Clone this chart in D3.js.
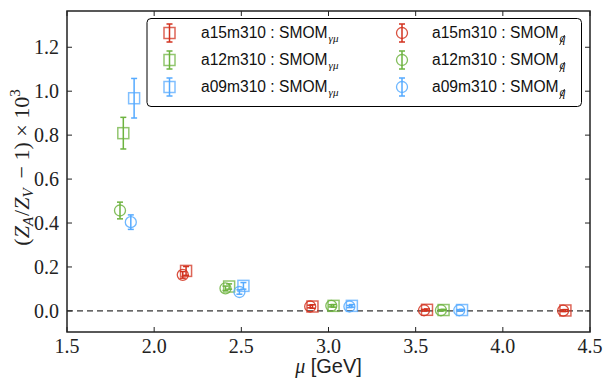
<!DOCTYPE html>
<html>
<head>
<meta charset="utf-8">
<script src="https://cdn.jsdelivr.net/npm/d3@7"></script>
<style>
  body { margin: 0; background: #fff; }
  svg { display: block; }
</style>
</head>
<body>
<div id="container"></div>
<script>
const width = 603;
const height = 382;

// series data: mu [GeV], (ZA/ZV - 1) x 10^3, error
const a15_gmu_mu  = [2.183, 2.908, 3.565, 4.359];
const a15_gmu_val = [0.182, 0.020, 0.005, 0.002];
const a15_gmu_err = [0.020, 0.008, 0.004, 0.004];

const a12_gmu_mu  = [1.823, 2.430, 3.029, 3.660];
const a12_gmu_val = [0.809, 0.111, 0.023, 0.004];
const a12_gmu_err = [0.072, 0.012, 0.006, 0.003];

const a09_gmu_mu  = [1.885, 2.512, 3.134, 3.766];
const a09_gmu_val = [0.968, 0.114, 0.023, 0.004];
const a09_gmu_err = [0.090, 0.015, 0.006, 0.003];

const a15_q_mu  = [2.164, 2.895, 3.548, 4.346];
const a15_q_val = [0.164, 0.020, 0.003, 0.001];
const a15_q_err = [0.015, 0.006, 0.004, 0.004];

const a12_q_mu  = [1.804, 2.409, 3.016, 3.645];
const a12_q_val = [0.457, 0.103, 0.023, 0.003];
const a12_q_err = [0.038, 0.010, 0.005, 0.003];

const a09_q_mu  = [1.866, 2.489, 3.120, 3.750];
const a09_q_val = [0.404, 0.086, 0.020, 0.003];
const a09_q_err = [0.033, 0.010, 0.005, 0.003];

const xTicks = [1.5, 2.0, 2.5, 3.0, 3.5, 4.0, 4.5];
const yTicks = [0.0, 0.2, 0.4, 0.6, 0.8, 1.0, 1.2];

const RED = '#d2321f', GREEN = '#6db33f', BLUE = '#55aaff';

function zip(mu, val, err) {
    return mu.map((m, i) => ({mu: m, v: val[i], e: err[i]}));
}

const series = [
    {name: 'a15m310', kind: 'gmu', color: RED,   data: zip(a15_gmu_mu, a15_gmu_val, a15_gmu_err)},
    {name: 'a12m310', kind: 'gmu', color: GREEN, data: zip(a12_gmu_mu, a12_gmu_val, a12_gmu_err)},
    {name: 'a09m310', kind: 'gmu', color: BLUE,  data: zip(a09_gmu_mu, a09_gmu_val, a09_gmu_err)},
    {name: 'a15m310', kind: 'q',   color: RED,   data: zip(a15_q_mu, a15_q_val, a15_q_err)},
    {name: 'a12m310', kind: 'q',   color: GREEN, data: zip(a12_q_mu, a12_q_val, a12_q_err)},
    {name: 'a09m310', kind: 'q',   color: BLUE,  data: zip(a09_q_mu, a09_q_val, a09_q_err)}
];

const plotL = 67, plotR = 590, plotT = 11, plotB = 332;

const svg = d3.select('#container')
    .append('svg')
    .attr('width', width)
    .attr('height', height);

const x = d3.scaleLinear().domain([1.5, 4.5]).range([plotL, plotR]);
const y = d3.scaleLinear().domain([-0.096, 1.365]).range([plotB, plotT]);

const SERIF = 'Liberation Serif';
const SANS = 'Liberation Sans';

// zero line
svg.append('line')
    .attr('x1', x(1.5)).attr('x2', x(4.5))
    .attr('y1', y(0)).attr('y2', y(0))
    .attr('stroke', '#000')
    .attr('stroke-width', 1)
    .attr('stroke-dasharray', '6,4');

// marker drawing
function drawMarker(g, kind, color, cx, cy) {
    if (kind === 'gmu') {
        g.append('rect')
            .attr('x', cx - 5.5).attr('y', cy - 5.5)
            .attr('width', 11).attr('height', 11)
            .attr('fill', 'none')
            .attr('stroke', color)
            .attr('stroke-opacity', 0.75)
            .attr('stroke-width', 1.5);
    } else {
        g.append('circle')
            .attr('cx', cx).attr('cy', cy).attr('r', 5.5)
            .attr('fill', 'none')
            .attr('stroke', color)
            .attr('stroke-opacity', 0.85)
            .attr('stroke-width', 1.3);
    }
}

function drawErr(g, color, cx, y1, y2) {
    g.append('line').attr('x1', cx).attr('x2', cx).attr('y1', y1).attr('y2', y2)
        .attr('stroke', color).attr('stroke-width', 1.5);
    [y1, y2].forEach(yy => {
        g.append('line').attr('x1', cx - 3).attr('x2', cx + 3).attr('y1', yy).attr('y2', yy)
            .attr('stroke', color).attr('stroke-width', 1.5);
    });
}

const pts = svg.append('g');
series.forEach(s => {
    const g = pts.append('g');
    s.data.forEach(d => {
        drawErr(g, s.color, x(d.mu), y(d.v + d.e), y(d.v - d.e));
        drawMarker(g, s.kind, s.color, x(d.mu), y(d.v));
    });
});

// axes with inward ticks
const axG = svg.append('g');
const tickLen = 5;
xTicks.forEach(t => {
    axG.append('line').attr('x1', x(t)).attr('x2', x(t)).attr('y1', plotB).attr('y2', plotB - tickLen)
        .attr('stroke', '#222').attr('stroke-width', 1);
    axG.append('line').attr('x1', x(t)).attr('x2', x(t)).attr('y1', plotT).attr('y2', plotT + tickLen)
        .attr('stroke', '#222').attr('stroke-width', 1);
    axG.append('text')
        .attr('x', x(t)).attr('y', plotB + 21)
        .attr('text-anchor', 'middle')
        .attr('font-family', SERIF).attr('font-size', 20)
        .attr('fill', '#222')
        .text(t.toFixed(1));
});
yTicks.forEach(t => {
    axG.append('line').attr('x1', plotL).attr('x2', plotL + tickLen).attr('y1', y(t)).attr('y2', y(t))
        .attr('stroke', '#222').attr('stroke-width', 1);
    axG.append('line').attr('x1', plotR).attr('x2', plotR - tickLen).attr('y1', y(t)).attr('y2', y(t))
        .attr('stroke', '#222').attr('stroke-width', 1);
    axG.append('text')
        .attr('x', plotL - 8).attr('y', y(t) + 7)
        .attr('text-anchor', 'end')
        .attr('font-family', SERIF).attr('font-size', 20)
        .attr('fill', '#222')
        .text(t.toFixed(1));
});
axG.append('rect')
    .attr('x', plotL).attr('y', plotT)
    .attr('width', plotR - plotL).attr('height', plotB - plotT)
    .attr('fill', 'none')
    .attr('stroke', '#222')
    .attr('stroke-width', 1.5);

// x label
const xl = svg.append('text')
    .attr('x', (plotL + plotR) / 2).attr('y', 373)
    .attr('text-anchor', 'middle')
    .attr('font-size', 20)
    .attr('fill', '#222');
xl.append('tspan').attr('font-family', SERIF).attr('font-style', 'italic').text('μ');
xl.append('tspan').attr('font-family', SANS).text(' [GeV]');

// y label
const yl = svg.append('text')
    .attr('transform', `translate(29,${(plotT + plotB) / 2 - 4}) rotate(-90)`)
    .attr('text-anchor', 'middle')
    .attr('font-family', SERIF)
    .attr('font-size', 22)
    .attr('fill', '#222');
yl.append('tspan').text('(');
yl.append('tspan').attr('font-style', 'italic').text('Z');
yl.append('tspan').attr('font-style', 'italic').attr('font-size', 15).attr('dy', 4).text('A');
yl.append('tspan').attr('dy', -4).attr('dx', 1).text('/');
yl.append('tspan').attr('font-style', 'italic').text('Z');
yl.append('tspan').attr('font-style', 'italic').attr('font-size', 15).attr('dy', 4).text('V');
yl.append('tspan').attr('dy', -4).text('\u2009 − 1) × 10');
yl.append('tspan').attr('font-size', 15).attr('dy', -9).text('3');

// legend
const legend = svg.append('g').attr('id', 'legend');
legend.append('rect')
    .attr('x', 147).attr('y', 18.5)
    .attr('width', 434.5).attr('height', 88)
    .attr('rx', 4).attr('ry', 4)
    .attr('fill', '#fff')
    .attr('stroke', '#000')
    .attr('stroke-width', 1);

const rowY = [33, 60, 87];
series.forEach((s, i) => {
    const col = Math.floor(i / 3), row = i % 3;
    const mx = col === 0 ? 169.5 : 402;
    const tx = col === 0 ? 201 : 432;
    const cy = rowY[row];
    const g = legend.append('g');
    drawErr(g, s.color, mx, cy - 9, cy + 9);
    drawMarker(g, s.kind, s.color, mx, cy);
    const t = g.append('text')
        .attr('x', tx).attr('y', cy + 5)
        .attr('font-family', SANS)
        .attr('font-size', 15.6)
        .attr('fill', '#111');
    t.append('tspan').text(s.name + ' : SMOM');
    if (s.kind === 'gmu') {
        t.append('tspan').attr('dy', 4).attr('dx', 1).attr('font-family', SERIF).attr('font-style', 'italic')
            .attr('font-size', 11).text('γμ');
    } else {
        t.append('tspan').attr('dy', 4).attr('dx', 1).attr('font-family', SERIF).attr('font-style', 'italic')
            .attr('font-size', 12).text('q');
        // slash through the q
        const end = tx + t.node().getComputedTextLength() + 1;
        g.append('line')
            .attr('x1', end - 6).attr('y1', cy + 12)
            .attr('x2', end - 1).attr('y2', cy + 2)
            .attr('stroke', '#111').attr('stroke-width', 0.9);
    }
});
</script>
</body>
</html>
